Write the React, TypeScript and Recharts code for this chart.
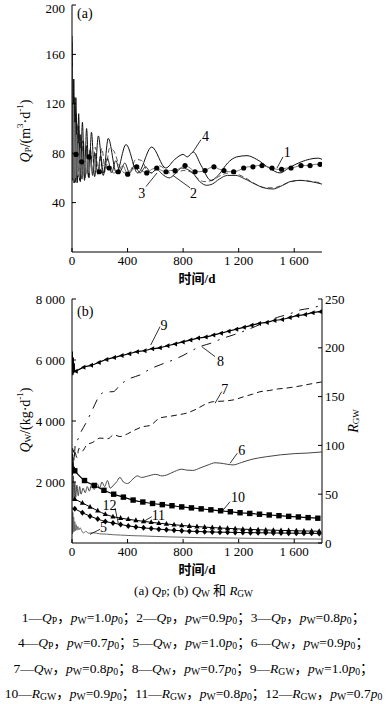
import React from 'react';
import { LineChart, Line, XAxis, YAxis, ReferenceLine, ReferenceDot } from 'recharts';

type Pt = [number, number];

// ---- (a) Q_P, m3/d ----
const qp1: Pt[] = [
  [0, 150], [5, 60], [10, 120], [15, 58], [20, 105], [26, 60], [32, 95], [38, 62], [45, 88], [52, 60],
  [60, 84], [68, 62], [76, 80], [84, 62], [93, 78], [102, 63], [112, 76], [122, 64], [133, 74], [145, 65],
  [158, 72], [172, 66], [190, 65], [230, 70], [268, 68], [300, 64], [333, 65], [365, 70], [401, 63], [430, 66],
  [466, 69], [500, 66], [538, 64], [575, 67], [610, 68], [645, 66], [677, 65], [710, 66], [742, 66], [780, 68],
  [814, 70], [850, 68], [886, 65], [920, 65], [958, 66], [990, 68], [1022, 69], [1060, 67], [1094, 66], [1130, 65],
  [1164, 65], [1200, 66], [1236, 68], [1270, 69], [1303, 69], [1336, 70], [1368, 70], [1405, 69], [1440, 68], [1475, 67],
  [1509, 67], [1545, 68], [1577, 68], [1612, 69], [1649, 70], [1680, 70], [1714, 70], [1750, 71], [1786, 71], [1800, 71],
];
const qp1Marks: Pt[] = [
  [29, 79], [70, 73], [123, 77], [197, 65], [268, 68], [333, 65], [401, 63], [466, 69], [538, 64], [610, 68],
  [677, 65], [742, 66], [814, 70], [886, 65], [958, 66], [1022, 69], [1094, 66], [1164, 65], [1236, 68], [1303, 69],
  [1368, 70], [1440, 68], [1509, 67], [1577, 68], [1649, 70], [1714, 70], [1786, 71],
];
const qp2: Pt[] = [
  [0, 170], [4, 62], [9, 140], [14, 56], [19, 125], [25, 57], [31, 112], [38, 58], [46, 102], [54, 58],
  [63, 95], [72, 59], [82, 90], [93, 60], [105, 86], [118, 61], [132, 83], [148, 62], [165, 80], [185, 63],
  [205, 78], [228, 64], [255, 76], [285, 64], [315, 74], [345, 65], [380, 72], [415, 64], [450, 70], [490, 64],
  [530, 69], [570, 64], [610, 67], [650, 63], [700, 60], [740, 63], [790, 68], [830, 67], [870, 64], [920, 57],
  [970, 54], [1010, 55], [1060, 59], [1120, 62], [1180, 62], [1230, 60], [1300, 56], [1380, 52], [1447, 51], [1500, 53],
  [1570, 57], [1642, 58], [1720, 57], [1800, 55],
];
const qp3: Pt[] = [
  [0, 160], [6, 64], [12, 128], [18, 60], [24, 115], [31, 61], [39, 104], [47, 61], [56, 96], [66, 62],
  [77, 90], [89, 63], [102, 86], [116, 63], [131, 84], [148, 64], [168, 85], [190, 64], [215, 84], [240, 65],
  [270, 84], [300, 82], [340, 70], [380, 64], [420, 66], [460, 75], [502, 74], [540, 66], [580, 64], [620, 70],
  [660, 68], [700, 64], [750, 64], [800, 66], [850, 65], [900, 60], [950, 57], [1010, 58], [1070, 62], [1130, 64],
  [1190, 63], [1250, 60], [1320, 55], [1400, 52], [1450, 52], [1510, 54], [1580, 57], [1650, 58], [1730, 57], [1800, 56],
];
const qp4: Pt[] = [
  [0, 175], [6, 58], [13, 140], [20, 56], [28, 125], [37, 56], [48, 112], [60, 57], [75, 105], [90, 58],
  [105, 100], [122, 60], [140, 97], [163, 61], [190, 94], [225, 62], [261, 92], [320, 64], [389, 87], [473, 64],
  [574, 85], [675, 68], [740, 75], [800, 79], [830, 77], [873, 81], [930, 70], [1000, 58], [1060, 63], [1120, 72],
  [1186, 77], [1260, 78], [1330, 75], [1420, 68], [1498, 64], [1560, 68], [1650, 73], [1773, 76], [1800, 75],
];

// ---- (b) Q_W, kg/d (left) and R_GW (right) ----
const qw5: Pt[] = [
  [0, 1200], [3, 300], [6, 1000], [9, 350], [12, 850], [16, 380], [20, 700], [25, 400], [30, 600], [36, 420],
  [42, 540], [50, 430], [58, 500], [68, 420], [82, 330], [100, 380], [120, 320], [150, 340], [200, 300], [250, 290],
  [300, 270], [350, 260], [439, 240], [520, 230], [600, 215], [700, 200], [800, 190], [922, 175], [1050, 170], [1200, 160],
  [1350, 150], [1500, 140], [1650, 135], [1798, 130],
];
const qw6: Pt[] = [
  [0, 2500], [5, 1400], [10, 2200], [15, 1450], [20, 2000], [27, 1500], [35, 1900], [45, 1550], [55, 1850], [65, 1600],
  [80, 1800], [95, 1650], [110, 1850], [125, 1700], [140, 1900], [160, 1750], [180, 1950], [200, 1800], [215, 2000], [235, 1850],
  [255, 2050], [275, 1800], [300, 1900], [322, 2010], [345, 2150], [370, 2000], [400, 1950], [439, 2100], [470, 2200], [500, 2150],
  [550, 2200], [600, 2250], [650, 2200], [682, 2230], [740, 2350], [790, 2420], [826, 2390], [870, 2380], [922, 2460], [980, 2560],
  [1030, 2630], [1066, 2620], [1120, 2580], [1160, 2560], [1220, 2640], [1300, 2750], [1402, 2830], [1500, 2890], [1600, 2930], [1700, 2950],
  [1798, 2985],
];
const qw7: Pt[] = [
  [0, 2400], [5, 3100], [10, 2600], [20, 3000], [35, 2800], [50, 3100], [70, 3000], [106, 3210], [150, 3300], [202, 3440],
  [260, 3420], [300, 3550], [346, 3490], [400, 3580], [450, 3700], [511, 3815], [560, 3850], [634, 4100], [700, 4150], [760, 4200],
  [826, 4260], [900, 4400], [960, 4550], [1018, 4635], [1080, 4650], [1160, 4690], [1240, 4800], [1300, 4880], [1354, 4960], [1420, 5000],
  [1480, 5050], [1546, 5080], [1620, 5130], [1700, 5200], [1798, 5280],
];
const qw8: Pt[] = [
  [0, 2600], [8, 3100], [15, 2800], [25, 3300], [33, 3321], [60, 3600], [106, 3980], [150, 4400], [202, 4854], [240, 4950],
  [296, 4962], [350, 5200], [420, 5400], [490, 5510], [560, 5700], [640, 5850], [727, 6000], [800, 6150], [860, 6300], [922, 6440],
  [1000, 6550], [1080, 6700], [1160, 6820], [1240, 6950], [1320, 7100], [1402, 7260], [1480, 7400], [1560, 7500], [1642, 7640], [1720, 7700],
  [1798, 7800],
];
const rgw9Start: Pt[] = [[0, 180], [3, 196], [6, 172], [9, 190], [12, 174], [16, 184], [20, 175], [27, 176]];
const rgw9: Pt[] = [
  [27, 176], [82, 180], [137, 182], [192, 185], [247, 188], [302, 190], [357, 192], [412, 194], [467, 196], [522, 197],
  [577, 199], [632, 200], [687, 202], [742, 204], [797, 206], [852, 208], [907, 210], [962, 211], [1017, 213], [1072, 215],
  [1127, 217], [1182, 219], [1237, 221], [1292, 223], [1347, 225], [1402, 226], [1457, 228], [1512, 229], [1567, 231], [1622, 233],
  [1677, 234], [1732, 236], [1787, 237],
];
const rgw10Start: Pt[] = [[0, 85], [4, 70], [8, 82], [12, 72], [16, 78], [20, 74]];
const rgw10: Pt[] = [
  [20, 74], [90, 64], [160, 59], [230, 54], [300, 50], [370, 47], [440, 44], [510, 42], [580, 40.5], [650, 39.3],
  [720, 38.2], [790, 37], [860, 36], [930, 35], [1000, 34], [1070, 33], [1140, 32], [1210, 31], [1280, 30.3], [1350, 29.5],
  [1420, 28.7], [1490, 28], [1560, 27.3], [1630, 26.7], [1700, 26], [1770, 25.4],
];
const rgw11: Pt[] = [
  [20, 35], [75, 31], [130, 27.5], [185, 24.5], [240, 22], [295, 20.5], [350, 19], [405, 17.5], [460, 16.5], [515, 15.5],
  [570, 14.8], [625, 14.2], [680, 13.6], [735, 13], [790, 12.5], [845, 12.1], [900, 11.8], [955, 11.5], [1010, 11.3], [1065, 11.1],
  [1120, 11], [1175, 10.8], [1230, 10.7], [1285, 10.6], [1340, 10.5], [1395, 10.4], [1450, 10.3], [1505, 10.2], [1560, 10.1], [1615, 10],
  [1670, 10], [1725, 9.9], [1780, 9.8],
];
const rgw12: Pt[] = [
  [20, 45], [75, 41], [130, 37], [185, 33], [240, 29.5], [295, 27], [350, 25.5], [405, 24.3], [460, 23.2], [515, 22.2],
  [570, 21.2], [625, 20.3], [680, 19.5], [735, 18.7], [790, 18], [845, 17.3], [900, 16.8], [955, 16.3], [1010, 15.8], [1065, 15.4],
  [1120, 15], [1175, 14.6], [1230, 14.2], [1285, 13.9], [1340, 13.6], [1395, 13.3], [1450, 13.1], [1505, 12.9], [1560, 12.7], [1615, 12.5],
  [1670, 12.3], [1725, 12.2], [1780, 12],
];

const xTicks = [0, 400, 800, 1200, 1600];
const qpTicks = [40, 80, 120, 160, 200];
const qwTicks = [2000, 4000, 6000, 8000];
const rTicks = [0, 50, 100, 150, 200, 250];

// curve-number callouts: [label, lineFrom, lineTo, textAt]
const calloutsA: [string, Pt, Pt, Pt][] = [
  ['4', [871, 81], [929, 91], [962, 94]],
  ['1', [1476, 68], [1519, 77], [1550, 81]],
  ['2', [727, 62], [850, 52], [875, 48]],
  ['3', [612, 64], [533, 53], [502, 48]],
];
const calloutsB: [string, Pt, Pt, Pt][] = [
  ['9', [567, 6494], [634, 7095], [662, 7150]],
  ['8', [934, 6440], [1030, 6110], [1070, 5980]],
  ['7', [1030, 4582], [1078, 4963], [1100, 5040]],
  ['6', [1138, 2614], [1190, 2942], [1222, 3060]],
  ['10', [1078, 1027], [1138, 1355], [1195, 1520]],
  ['11', [514, 700], [574, 863], [622, 930]],
  ['12', [333, 646], [310, 1148], [270, 1260]],
  ['5', [130, 285], [202, 449], [226, 520]],
];

const legendRows: [string, string, string, string][][] = [
  [['1', 'Q', 'P', '1.0'], ['2', 'Q', 'P', '0.9'], ['3', 'Q', 'P', '0.8']],
  [['4', 'Q', 'P', '0.7'], ['5', 'Q', 'W', '1.0'], ['6', 'Q', 'W', '0.9']],
  [['7', 'Q', 'W', '0.8'], ['8', 'Q', 'W', '0.7'], ['9', 'R', 'GW', '1.0']],
  [['10', 'R', 'GW', '0.9'], ['11', 'R', 'GW', '0.8'], ['12', 'R', 'GW', '0.7']],
];

const FONT = "'Liberation Serif', 'DejaVu Serif', serif";
const CJK = "'Noto Sans CJK SC', sans-serif";
const rows = (pts: Pt[]) => pts.map(([t, v]) => ({ t, v }));
const fmt = (v: number) => (v >= 1000 ? String(v).replace(/(\d)(\d{3})$/, '$1 $2') : String(v));
const tickStyle = { fontSize: 13, fill: '#000', fontFamily: FONT };

const Circle = (p: any) => <circle key={`c${p.index}`} cx={p.cx} cy={p.cy} r={2.6} fill="#000" />;
const Square = (p: any) => <rect key={`s${p.index}`} x={p.cx - 2.7} y={p.cy - 2.7} width={5.4} height={5.4} fill="#000" />;
const TriLeft = (p: any) => (
  <path key={`l${p.index}`} d={`M${p.cx - 2.5},${p.cy} L${p.cx + 2},${p.cy - 2.5} L${p.cx + 2},${p.cy + 2.5} Z`} fill="#000" />
);
const TriUp = (p: any) => (
  <path key={`u${p.index}`} d={`M${p.cx},${p.cy - 3} L${p.cx + 2.6},${p.cy + 1.8} L${p.cx - 2.6},${p.cy + 1.8} Z`} fill="#000" />
);
const Diamond = (p: any) => (
  <path key={`d${p.index}`} d={`M${p.cx},${p.cy - 3} L${p.cx + 2.5},${p.cy} L${p.cx},${p.cy + 3} L${p.cx - 2.5},${p.cy} Z`} fill="#000" />
);

const XTitle = ({ viewBox }: any) => (
  <text x={viewBox.x + viewBox.width / 2} y={viewBox.y + 31} textAnchor="middle" fontSize={13} fontWeight="bold">
    <tspan fontFamily={CJK}>时间</tspan>
    <tspan fontFamily={FONT}>/d</tspan>
  </text>
);

const YTitle = (parts: { s: string; italic?: boolean; sub?: boolean; sup?: boolean }[], cx: number, cy: number) => () => (
  <text x={cx} y={cy} transform={`rotate(-90, ${cx}, ${cy})`} textAnchor="middle" dominantBaseline="central" fontSize={14} fontFamily={FONT}>
    {parts.map((p, i) => {
      const prev = parts[i - 1];
      const shift = (p.sub ? 3 : p.sup ? -5 : 0) - (prev ? (prev.sub ? 3 : prev.sup ? -5 : 0) : 0);
      return (
        <tspan key={i} dy={shift} fontStyle={p.italic ? 'italic' : 'normal'} fontSize={p.sub || p.sup ? 9 : 14}>
          {p.s}
        </tspan>
      );
    })}
  </text>
);

const Callouts = (list: [string, Pt, Pt, Pt][], yAxisId: string) =>
  list.flatMap(([name, a, b, c]) => [
    <ReferenceLine
      key={`l${name}`}
      yAxisId={yAxisId}
      segment={[{ x: a[0], y: a[1] }, { x: b[0], y: b[1] }]}
      stroke="#000"
      strokeWidth={0.8}
    />,
    <ReferenceDot
      key={`t${name}`}
      yAxisId={yAxisId}
      x={c[0]}
      y={c[1]}
      r={0}
      stroke="none"
      fill="none"
      label={{ value: name, position: 'center', fontSize: 14, fill: '#000', fontFamily: FONT }}
    />,
  ]);

const Sym = ({ v, s }: { v: string; s: string }) => (
  <>
    <i>{v}</i>
    <span style={{ fontSize: '0.72em', verticalAlign: '-0.2em' }}>{s}</span>
  </>
);
const Zh = ({ children }: { children: React.ReactNode }) => <span style={{ fontFamily: CJK }}>{children}</span>;

export default function App() {
  const axisLine = { stroke: '#000', strokeWidth: 1 };
  return (
    <div style={{ position: 'absolute', left: 0, top: 0, width: 387, height: 704, background: '#fff', fontFamily: FONT }}>
      {/* (a) */}
      <div style={{ position: 'absolute', left: 0, top: 0 }}>
        <LineChart width={387} height={290} margin={{ top: 5, right: 65, bottom: 0, left: 0 }}>
          <XAxis
            dataKey="t"
            type="number"
            domain={[0, 1800]}
            ticks={xTicks}
            tickFormatter={fmt}
            tick={tickStyle}
            tickSize={-4}
            tickMargin={8}
            axisLine={axisLine}
            tickLine={{ stroke: '#000' }}
            height={38}
            allowDataOverflow
            label={<XTitle />}
          />
          <XAxis xAxisId="top" orientation="top" dataKey="t" type="number" domain={[0, 1800]} tick={false} tickLine={false} axisLine={axisLine} height={0} />
          <YAxis
            yAxisId="q"
            type="number"
            domain={[0, 200]}
            ticks={qpTicks}
            tick={tickStyle}
            tickSize={-4}
            tickMargin={11}
            axisLine={axisLine}
            tickLine={{ stroke: '#000' }}
            width={72}
            allowDataOverflow
            label={YTitle([{ s: 'Q', italic: true }, { s: 'P', sub: true }, { s: '/(m' }, { s: '3', sup: true }, { s: '·d' }, { s: '-1', sup: true }, { s: ')' }], 25, 131)}
          />
          <YAxis yAxisId="r" orientation="right" domain={[0, 200]} tick={false} tickLine={false} axisLine={axisLine} width={0} />
          <Line yAxisId="q" data={rows(qp3)} dataKey="v" type="monotone" stroke="#555" strokeWidth={1} strokeDasharray="5 3" dot={false} isAnimationActive={false} />
          <Line yAxisId="q" data={rows(qp2)} dataKey="v" type="monotone" stroke="#222" strokeWidth={1} dot={false} isAnimationActive={false} />
          <Line yAxisId="q" data={rows(qp4)} dataKey="v" type="monotone" stroke="#111" strokeWidth={1} dot={false} isAnimationActive={false} />
          <Line yAxisId="q" data={rows(qp1)} dataKey="v" type="monotone" stroke="#777" strokeWidth={1} dot={false} isAnimationActive={false} />
          <Line yAxisId="q" data={rows(qp1Marks)} dataKey="v" stroke="none" dot={Circle} isAnimationActive={false} />
          {Callouts(calloutsA, 'q')}
        </LineChart>
        <div style={{ position: 'absolute', left: 77, top: 6, fontSize: 14 }}>(a)</div>
      </div>

      {/* (b) */}
      <div style={{ position: 'absolute', left: 0, top: 290 }}>
        <LineChart width={387} height={292} margin={{ top: 9, right: 0, bottom: 0, left: 0 }}>
          <XAxis
            dataKey="t"
            type="number"
            domain={[0, 1800]}
            ticks={xTicks}
            tickFormatter={fmt}
            tick={tickStyle}
            tickSize={-4}
            tickMargin={8}
            axisLine={axisLine}
            tickLine={{ stroke: '#000' }}
            height={39}
            allowDataOverflow
            label={<XTitle />}
          />
          <XAxis xAxisId="top" orientation="top" dataKey="t" type="number" domain={[0, 1800]} tick={false} tickLine={false} axisLine={axisLine} height={0} />
          <YAxis
            yAxisId="Q"
            type="number"
            domain={[0, 8000]}
            ticks={qwTicks}
            tickFormatter={fmt}
            tick={tickStyle}
            tickSize={-4}
            tickMargin={11}
            axisLine={axisLine}
            tickLine={{ stroke: '#000' }}
            width={72}
            allowDataOverflow
            label={YTitle([{ s: 'Q', italic: true }, { s: 'W', sub: true }, { s: '/(kg·d' }, { s: '-1', sup: true }, { s: ')' }], 25, 130)}
          />
          <YAxis
            yAxisId="R"
            orientation="right"
            type="number"
            domain={[0, 250]}
            ticks={rTicks}
            tick={{ ...tickStyle, textAnchor: 'start' }}
            tickSize={-4}
            tickMargin={7}
            axisLine={axisLine}
            tickLine={{ stroke: '#000' }}
            width={65}
            allowDataOverflow
            label={YTitle([{ s: 'R', italic: true }, { s: 'GW', sub: true }], 353, 131)}
          />
          <Line yAxisId="Q" data={rows(qw5)} dataKey="v" type="monotone" stroke="#666" strokeWidth={1} dot={false} isAnimationActive={false} />
          <Line yAxisId="Q" data={rows(qw6)} dataKey="v" type="monotone" stroke="#444" strokeWidth={1} dot={false} isAnimationActive={false} />
          <Line yAxisId="Q" data={rows(qw7)} dataKey="v" type="monotone" stroke="#111" strokeWidth={1} strokeDasharray="6 4" dot={false} isAnimationActive={false} />
          <Line yAxisId="Q" data={rows(qw8)} dataKey="v" type="monotone" stroke="#111" strokeWidth={1} strokeDasharray="10 7 2 7" dot={false} isAnimationActive={false} />
          <Line yAxisId="R" data={rows(rgw9Start)} dataKey="v" type="linear" stroke="#000" strokeWidth={1} dot={false} isAnimationActive={false} />
          <Line yAxisId="R" data={rows(rgw9)} dataKey="v" type="monotone" stroke="#000" strokeWidth={1.2} dot={TriLeft} isAnimationActive={false} />
          <Line yAxisId="R" data={rows(rgw10Start)} dataKey="v" type="linear" stroke="#000" strokeWidth={1} dot={false} isAnimationActive={false} />
          <Line yAxisId="R" data={rows(rgw10)} dataKey="v" type="monotone" stroke="#000" strokeWidth={1.2} dot={Square} isAnimationActive={false} />
          <Line yAxisId="R" data={rows(rgw12)} dataKey="v" type="monotone" stroke="#000" strokeWidth={1} dot={TriUp} isAnimationActive={false} />
          <Line yAxisId="R" data={rows(rgw11)} dataKey="v" type="monotone" stroke="#000" strokeWidth={1} dot={Diamond} isAnimationActive={false} />
          {Callouts(calloutsB, 'Q')}
        </LineChart>
        <div style={{ position: 'absolute', left: 77, top: 14, fontSize: 14 }}>(b)</div>
      </div>

      {/* caption */}
      <div style={{ position: 'absolute', left: 0, top: 581, width: 387, textAlign: 'center', fontSize: 13, lineHeight: '18px' }}>
        (a) <Sym v="Q" s="P" />; (b) <Sym v="Q" s="W" /> <Zh>和</Zh> <Sym v="R" s="GW" />
      </div>
      <div style={{ position: 'absolute', left: 0, top: 606, width: 387, textAlign: 'center', fontSize: 13.5, lineHeight: '20.5px' }}>
        {legendRows.map((row, ri) => (
          <div key={ri} style={{ whiteSpace: 'nowrap' }}>
            {row.map(([n, v, s, p], i) => (
              <span key={n}>
                {n}—<Sym v={v} s={s} />
                <Zh>，</Zh>
                <Sym v="p" s="W" />={p}
                <Sym v="p" s="0" />
                {ri === 3 && i === 2 ? '' : <Zh>；</Zh>}
              </span>
            ))}
          </div>
        ))}
      </div>
    </div>
  );
}
